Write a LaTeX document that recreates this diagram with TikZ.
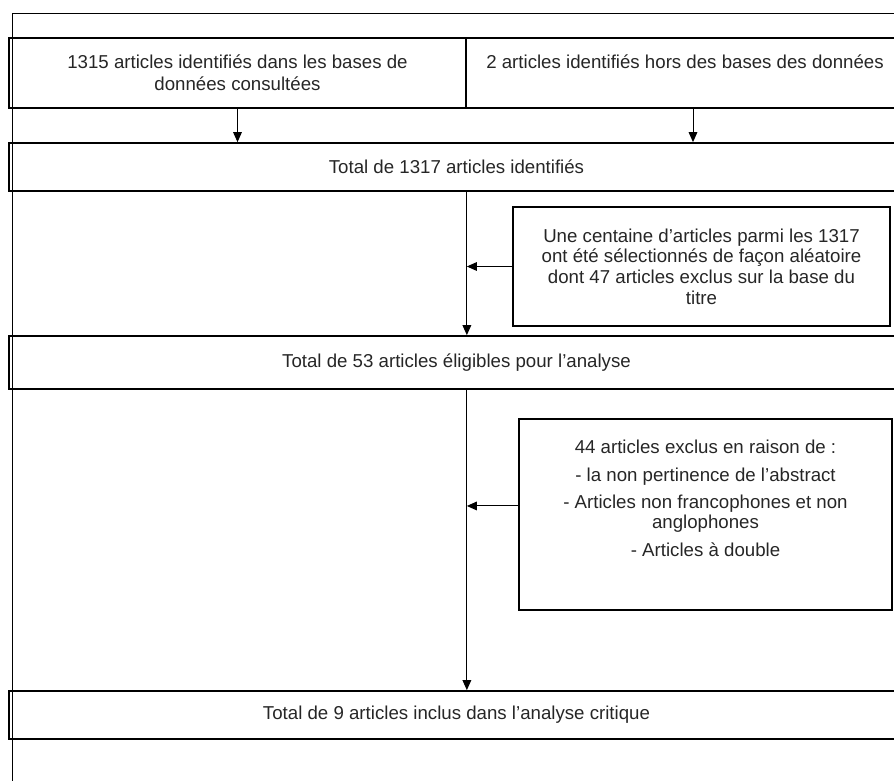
\documentclass[tikz,border=0pt]{standalone}
\usepackage{fontspec}
\setmainfont{Liberation Sans}
\usetikzlibrary{arrows.meta}
\begin{document}
\begin{tikzpicture}[x=0.75pt,y=-0.75pt,
  box/.style={draw, line width=1.3pt, rectangle, inner sep=0pt, align=center,
    font=\fontsize{14}{16.5}\selectfont, text=black!85},
  lbl/.style={inner sep=0pt, align=center, font=\fontsize{14}{15.5}\selectfont, text=black!85},
  arr/.style={line width=0.75pt, -{Triangle[length=7.5pt,width=6.5pt]}},
  frame/.style={line width=0.6pt}]
\useasboundingbox (0,0) rectangle (894,781);
\clip (0,0) rectangle (894,781);
\draw[frame] (12,800) -- (12,13) -- (920,13);
\node[box, minimum width=342.75pt, minimum height=52.5pt] (A) at (237.5,73)
  {1315 articles identifiés dans les bases de\\données consultées};
\node[box, minimum width=328.5pt, minimum height=52.5pt] (B) at (685,73) {};
\node[lbl] (Bt) at (685,62) {2 articles identifiés hors des bases des données};
\node[box, minimum width=671.25pt, minimum height=36pt] (T1) at (456.5,167)
  {Total de 1317 articles identifiés};
\node[box, minimum width=671.25pt, minimum height=39.75pt] (T2) at (456.5,362.5)
  {Total de 53 articles éligibles pour l’analyse};
\node[box, minimum width=671.25pt, minimum height=36pt] (T3) at (456.5,715)
  {Total de 9 articles inclus dans l’analyse critique};
\node[box, font=\fontsize{14}{15.5}\selectfont, minimum width=282.75pt, minimum height=89.25pt] (S1) at (701.5,266.5)
  {Une centaine d’articles parmi les 1317\\ont été sélectionnés de façon aléatoire\\dont 47 articles exclus sur la base du\\titre};
\node[box, minimum width=279.75pt, minimum height=143.25pt] (S2) at (705.5,514.5) {};
\node[lbl, font=\fontsize{14}{15}\selectfont] (S2t) at (705.5,498.5)
  {44 articles exclus en raison de :\\[5.6pt]- la non pertinence de l’abstract\\[5.6pt]- Articles non francophones et non\\anglophones\\[5.6pt]- Articles à double};
\draw[arr] (A.south) -- (A.south |- T1.north);
\draw[arr] ([xshift=6pt]B.south) -- ([xshift=6pt]B.south |- T1.north);
\draw[arr] (T1.south -| A.east) -- (T2.north -| A.east);
\draw[arr] (S1.west) -- (S1.west -| A.east);
\draw[arr] (T2.south -| A.east) -- (T3.north -| A.east);
\draw[arr] ([yshift=6.4pt]S2.west) -- ([yshift=6.4pt]S2.west -| A.east);
\end{tikzpicture}
\end{document}
